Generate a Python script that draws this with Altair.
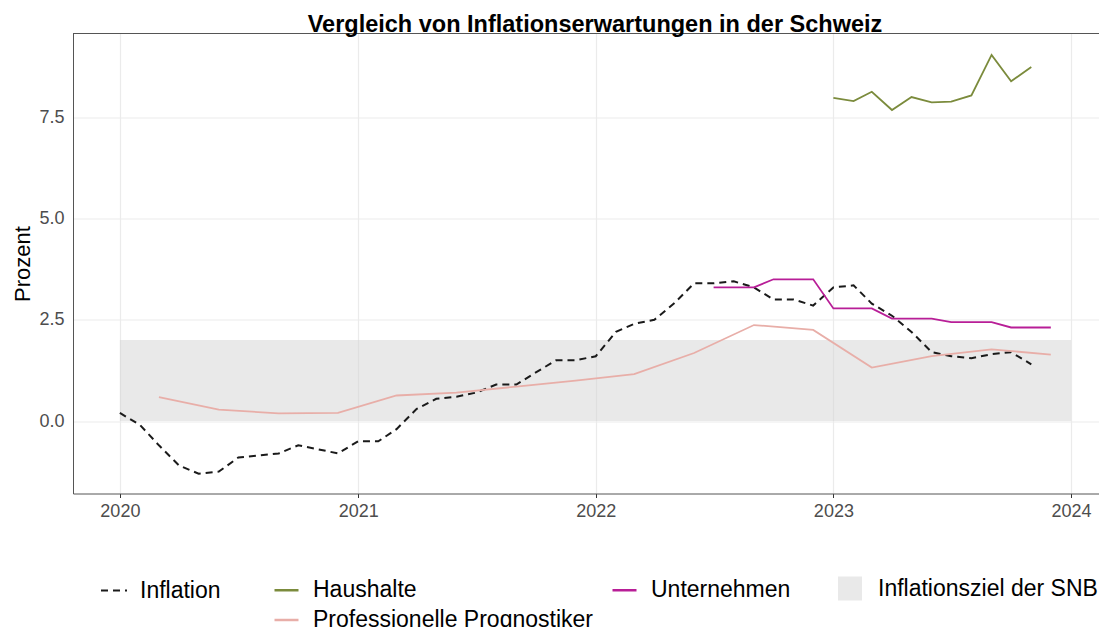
import altair as alt
import pandas as pd

FONT = "Liberation Sans"

# ---------------- data ----------------
title_text = "Vergleich von Inflationserwartungen in der Schweiz"

inflation_dates = pd.date_range("2020-01-01", "2023-11-01", freq="MS").strftime("%Y-%m-%d").tolist()
inflation_values = [0.2, -0.1, -0.6, -1.1, -1.3, -1.25, -0.9, -0.85, -0.8, -0.6, -0.7, -0.8,
                    -0.5, -0.5, -0.2, 0.3, 0.55, 0.6, 0.7, 0.9, 0.9, 1.2, 1.5, 1.5,
                    1.6, 2.2, 2.4, 2.5, 2.9, 3.4, 3.4, 3.45, 3.3, 3.0, 3.0, 2.85,
                    3.3, 3.35, 2.9, 2.6, 2.2, 1.7, 1.6, 1.55, 1.65, 1.7, 1.4]

haushalte_dates = pd.date_range("2023-01-01", "2023-11-01", freq="MS").strftime("%Y-%m-%d").tolist()
haushalte_values = [7.98, 7.90, 8.13, 7.68, 8.00, 7.87, 7.89, 8.04, 9.04, 8.39, 8.74]

unternehmen_dates = pd.date_range("2022-07-01", "2023-12-01", freq="MS").strftime("%Y-%m-%d").tolist()
unternehmen_values = [3.3, 3.3, 3.3, 3.5, 3.5, 3.5, 2.78, 2.78, 2.78,
                      2.53, 2.53, 2.53, 2.44, 2.44, 2.44, 2.31, 2.31, 2.31]

prognostiker_dates = pd.date_range("2020-03-01", "2023-12-01", freq="3MS").strftime("%Y-%m-%d").tolist()
prognostiker_values = [0.59, 0.28, 0.19, 0.20, 0.63, 0.70, 0.85, 1.00,
                       1.16, 1.68, 2.37, 2.25, 1.32, 1.60, 1.77, 1.64]

band_start, band_end, band_low, band_high = "2020-01-01", "2024-01-01", 0.0, 2.0

series_names = ["Haushalte", "Professionelle Prognostiker", "Unternehmen"]
series_colors = ["#7B8B3C", "#E8AEA8", "#B81E97"]

# ---------------- tables ----------------
infl_df = pd.DataFrame({"date": inflation_dates, "value": inflation_values, "typ": "Inflation"})
exp_df = pd.concat([
    pd.DataFrame({"date": haushalte_dates, "value": haushalte_values, "serie": "Haushalte"}),
    pd.DataFrame({"date": unternehmen_dates, "value": unternehmen_values, "serie": "Unternehmen"}),
    pd.DataFrame({"date": prognostiker_dates, "value": prognostiker_values, "serie": "Professionelle Prognostiker"}),
], ignore_index=True)
band_df = pd.DataFrame({"start": [band_start], "end": [band_end], "lo": [band_low], "hi": [band_high],
                        "ziel": ["Inflationsziel der SNB"]})

W, H = 1026, 460
LEG_FS = 23
LEG_Y = 543

x_scale = alt.Scale(type="utc",
                    domain=[alt.DateTime(year=2019, month=10, date=21, utc=True),
                            alt.DateTime(year=2024, month=2, date=13, utc=True)])
y_scale = alt.Scale(domain=[-1.79, 9.57], nice=False, zero=False)

x_axis = alt.Axis(values=[alt.DateTime(year=y, month=1, date=1, utc=True) for y in range(2020, 2025)],
                  format="%Y", title=None, grid=True, gridColor="#EBEBEB", gridWidth=1.2,
                  domainColor="#555555", tickColor="#333333", tickSize=4, labelPadding=5,
                  labelFontSize=18, labelColor="#4D4D4D", labelFont=FONT)
y_axis = alt.Axis(values=[0, 2.5, 5, 7.5], format=".1f", title="Prozent", grid=True,
                  gridColor="#EBEBEB", gridWidth=1.2, domainColor="#555555", ticks=False,
                  tickSize=0, labelPadding=9, labelFontSize=18, labelColor="#4D4D4D",
                  labelFont=FONT, titleFont=FONT, titleFontSize=22, titleFontWeight="normal",
                  titleColor="black", titlePadding=4)

band = alt.Chart(band_df).mark_rect(opacity=0.5).encode(
    x=alt.X("start:T", scale=x_scale, axis=x_axis),
    x2="end:T",
    y=alt.Y("lo:Q", scale=y_scale, axis=y_axis),
    y2="hi:Q",
    fill=alt.Fill("ziel:N", scale=alt.Scale(range=["#D4D4D4"]),
                  legend=alt.Legend(orient="none", legendX=765, legendY=LEG_Y, title=None,
                                    symbolType="square", symbolSize=576, symbolOpacity=0.5,
                                    symbolStrokeWidth=0, labelOffset=16, labelFontSize=LEG_FS,
                                    labelFont=FONT, labelColor="black", labelLimit=600,
                                    padding=0)),
)

infl = alt.Chart(infl_df).mark_line(color="#1A1A1A", strokeWidth=2).encode(
    x=alt.X("date:T", scale=x_scale),
    y=alt.Y("value:Q", scale=y_scale),
    strokeDash=alt.StrokeDash("typ:N", scale=alt.Scale(range=[[7, 5]]),
                              legend=alt.Legend(orient="none", legendX=27, legendY=LEG_Y, title=None,
                                                symbolSize=676, symbolStrokeColor="#1A1A1A",
                                                symbolStrokeWidth=2, labelOffset=12,
                                                labelFontSize=LEG_FS, labelFont=FONT,
                                                labelColor="black", labelLimit=600, padding=0)),
)

exp = alt.Chart(exp_df).mark_line(strokeWidth=1.8).encode(
    x=alt.X("date:T", scale=x_scale),
    y=alt.Y("value:Q", scale=y_scale),
    color=alt.Color("serie:N", scale=alt.Scale(domain=series_names, range=series_colors),
                    legend=alt.Legend(orient="none", legendX=200, legendY=LEG_Y, title=None,
                                      columns=2, columnPadding=14, rowPadding=4,
                                      symbolSize=576, symbolStrokeWidth=2.5, labelOffset=13,
                                      labelFontSize=LEG_FS, labelFont=FONT, labelColor="black",
                                      labelLimit=600, padding=0)),
)

top_line = alt.Chart(pd.DataFrame({"k": [0]})).mark_rule(color="#555555", strokeWidth=1).encode(
    y=alt.value(0), x=alt.value(0), x2=alt.value(W)
)

title = alt.Chart(pd.DataFrame({"t": [title_text]})).mark_text(
    font=FONT, fontSize=23.5, fontWeight="bold", color="black", align="center",
    baseline="alphabetic"
).encode(text="t:N", x=alt.value(W / 2 + 9), y=alt.value(-2))

chart = alt.layer(band, infl, exp, top_line, title).properties(
    width=W, height=H,
    autosize=alt.AutoSizeParams(type="none"),
    padding={"left": 65, "top": 25.5, "right": 0, "bottom": 133.5},
).configure_view(stroke=None)

chart.save("out.html", embed_options={"renderer": "svg", "actions": False})
